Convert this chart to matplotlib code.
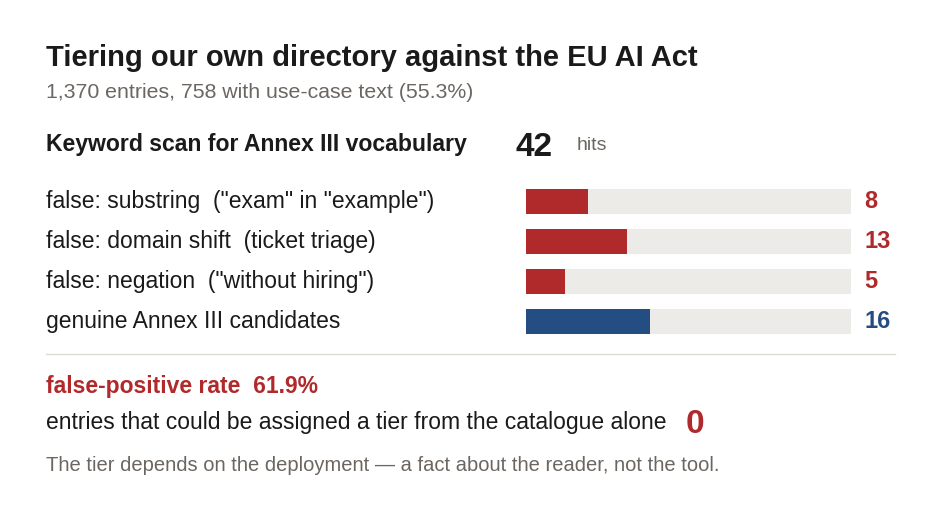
import matplotlib
matplotlib.use("Agg")
import matplotlib.pyplot as plt

plt.rcParams['font.family'] = ['Liberation Sans', 'DejaVu Sans']

title = "Tiering our own directory against the EU AI Act"
subtitle = "1,370 entries, 758 with use-case text (55.3%)"
scan_label = "Keyword scan for Annex III vocabulary"
total_hits = 42
categories = ['false: substring  ("exam" in "example")',
              'false: domain shift  (ticket triage)',
              'false: negation  ("without hiring")',
              'genuine Annex III candidates']
values = [8, 13, 5, 16]
is_false = [True, True, True, False]
fp_rate_label = "false-positive rate  61.9%"
tier_label = "entries that could be assigned a tier from the catalogue alone"
tier_count = 0
footnote = "The tier depends on the deployment \u2014 a fact about the reader, not the tool."

RED = "#b0292b"
BLUE = "#244d82"
TRACK = "#ecebe7"
GRAY = "#6b6661"
BLACK = "#1a1a1a"

W, H = 940, 520
fig = plt.figure(figsize=(W / 100, H / 100), dpi=100)
fig.patch.set_facecolor("white")

ax = fig.add_axes([0, 0, 1, 1])
ax.set_xlim(0, W)
ax.set_ylim(H, 0)
ax.axis("off")

def txt(x, y, s, size, color, bold=False):
    ax.text(x, y, s, fontsize=size, fontweight="bold" if bold else "normal",
            color=color, va="baseline", ha="left")

txt(46, 66, title, 21, BLACK, True)
txt(46, 98, subtitle, 15.3, GRAY)
txt(46, 151, scan_label, 16.6, BLACK, True)
txt(516, 156, str(total_hits), 24, BLACK, True)
txt(577, 150, "hits", 14, GRAY)

x0, x1 = 526, 851
y_top, y_bot = 189, 334
bax = fig.add_axes([x0 / W, 1 - y_bot / H, (x1 - x0) / W, (y_bot - y_top) / H])
n = len(values)
ys = list(range(n))
bh = 25 / 40
bax.barh(ys, [total_hits] * n, height=bh, color=TRACK, linewidth=0)
cols = [RED if f else BLUE for f in is_false]
bax.barh(ys, values, height=bh, color=cols, linewidth=0)
bax.set_xlim(0, total_hits)
bax.set_ylim(n - 1 + bh / 2, -bh / 2)
bax.axis("off")

baselines = [208 + 40 * i for i in range(n)]
for yb, lab, v, c in zip(baselines, categories, values, cols):
    txt(46, yb, lab, 16.5, BLACK)
    txt(864, yb, str(v), 17, c, True)

ax.plot([46, 895], [354, 354], color="#dddbd6", linewidth=1)

txt(46, 393, fp_rate_label, 16.5, RED, True)
txt(46, 429, tier_label, 16.5, BLACK)
txt(686, 433, str(tier_count), 24, RED, True)
txt(46, 471, footnote, 14.5, GRAY)

fig.savefig("out.png", dpi=100, facecolor="white")
